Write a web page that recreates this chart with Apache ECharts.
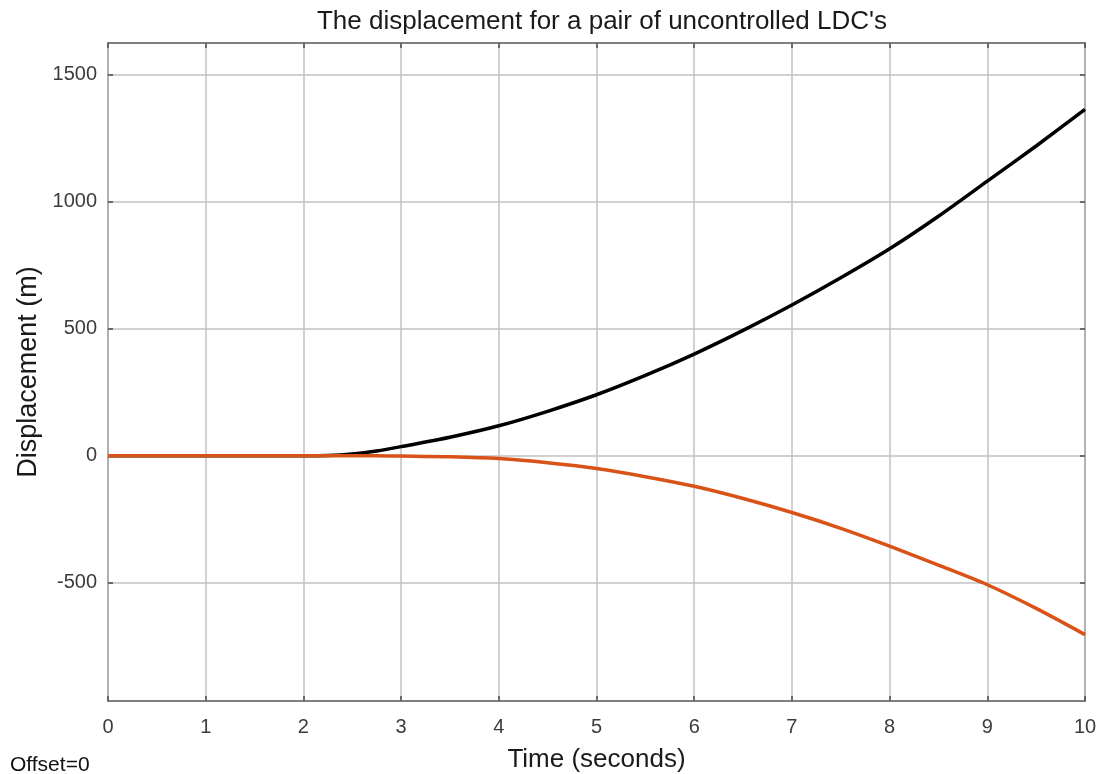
<!DOCTYPE html>
<html>
<head>
<meta charset="utf-8">
<script src="https://cdn.jsdelivr.net/npm/echarts@6/dist/echarts.min.js"></script>
<style>
  html, body { margin: 0; padding: 0; background: #fff; }
  #chart { width: 1103px; height: 774px; }
</style>
</head>
<body>
<div id="chart"></div>
<script>
// Time samples (s)
const timeSec = [0, 0.5, 1, 1.5, 2, 2.25, 2.5, 2.75, 3, 3.5, 4, 4.5, 5, 5.5, 6, 6.5, 7, 7.5, 8, 8.5, 9, 9.5, 10];
// Displacement of the first LDC (m)
const ldcA = [0, 0, 0, 0, 0, 1, 7, 19, 36, 73, 118, 175, 240, 316, 400, 493, 593, 700, 814, 942, 1080, 1218, 1362];
// Displacement of the second LDC (m)
const ldcB = [0, 0, 0, 0, 0, 0, 0, 0, -1, -4, -11, -27, -50, -82, -120, -168, -223, -285, -355, -430, -507, -600, -703];
// Axis ticks
const xTicks = [0, 1, 2, 3, 4, 5, 6, 7, 8, 9, 10];
const yTicks = [-500, 0, 500, 1000, 1500];

const yMin = -964, yMax = 1623;
const font = 'Liberation Sans, Arial, sans-serif';
const boxColor = '#7f7f7f';
const gridColor = '#c2c2c2';
const tickColor = '#4a4a4a';
const labelColor = '#3c3c3c';

const chart = echarts.init(document.getElementById('chart'), null, { renderer: 'canvas' });

const pair = (ys) => timeSec.map((t, i) => [t, ys[i]]);

chart.setOption({
  animation: false,
  backgroundColor: '#ffffff',
  title: {
    text: "The displacement for a pair of uncontrolled LDC's",
    left: 597, top: 4, textAlign: 'center',
    textStyle: { fontFamily: font, fontSize: 26, fontWeight: 'normal', color: '#1a1a1a' }
  },
  graphic: [{
    type: 'text', left: 10, top: 755,
    style: { text: 'Offset=0', fontFamily: font, fontSize: 21, fill: '#111' }
  }],
  grid: {
    left: 108, right: 18, top: 43, bottom: 73,
    containLabel: false, outerBoundsMode: 'none',
    show: true, borderColor: boxColor, borderWidth: 2, backgroundColor: '#fff'
  },
  xAxis: [{
    type: 'value', min: 0, max: 10, interval: 1,
    name: 'Time (seconds)', nameLocation: 'middle', nameGap: 46,
    nameTextStyle: { fontFamily: font, fontSize: 26, color: '#1a1a1a' },
    axisLine: { show: false, onZero: false },
    axisTick: { inside: true, length: 5, lineStyle: { color: tickColor, width: 1.5 } },
    axisLabel: { fontFamily: font, fontSize: 20, color: labelColor, margin: 16,
      customValues: xTicks },
    splitLine: { show: true, lineStyle: { color: gridColor, width: 1.5 } }
  }, {
    type: 'value', min: 0, max: 10, interval: 1, position: 'top',
    axisLine: { show: false, onZero: false },
    axisTick: { inside: true, length: 5, lineStyle: { color: tickColor, width: 1.5 } },
    axisLabel: { show: false },
    splitLine: { show: false }
  }],
  yAxis: [{
    type: 'value', min: yMin, max: yMax,
    name: 'Displacement (m)', nameLocation: 'middle', nameGap: 63, nameRotate: 90,
    nameTextStyle: { fontFamily: font, fontSize: 27, color: '#1a1a1a' },
    axisLine: { show: false, onZero: false },
    axisTick: { inside: true, length: 5, customValues: yTicks, lineStyle: { color: tickColor, width: 1.5 } },
    axisLabel: { fontFamily: font, fontSize: 20, color: labelColor, margin: 11,
      customValues: yTicks, formatter: (v) => String(v) },
    splitLine: { show: true, lineStyle: { color: gridColor, width: 1.5 } }
  }, {
    type: 'value', min: yMin, max: yMax, position: 'right',
    axisLine: { show: false, onZero: false },
    axisTick: { inside: true, length: 5, customValues: yTicks, lineStyle: { color: tickColor, width: 1.5 } },
    axisLabel: { show: false, customValues: yTicks },
    splitLine: { show: false }
  }],
  series: [{
    name: 'LDC 1', type: 'line', xAxisIndex: 0, yAxisIndex: 0,
    data: pair(ldcA), showSymbol: false, smooth: 0.25,
    lineStyle: { color: '#000000', width: 3.5 }, z: 3
  }, {
    name: 'LDC 2', type: 'line', xAxisIndex: 0, yAxisIndex: 0,
    data: pair(ldcB), showSymbol: false, smooth: 0.25,
    lineStyle: { color: '#D95319', width: 3.5 }, z: 4
  }]
});
</script>
</body>
</html>
